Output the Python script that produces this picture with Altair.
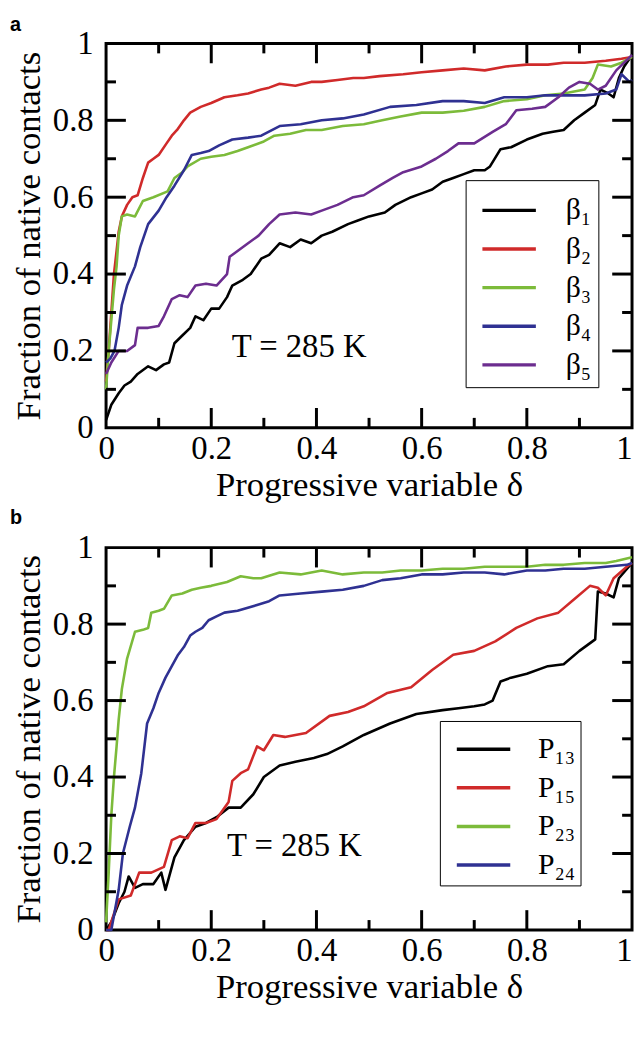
import altair as alt
import pandas as pd

FONT = "Liberation Serif"

# ---------------- Panel a ----------------
a_names = ["β₁", "β₂", "β₃", "β₄", "β₅"]
a_colors = ["#000000", "#d02a2a", "#7cbb3a", "#2f3192", "#6c2d8f"]

b1_x = [0, 0.01, 0.024, 0.035, 0.047, 0.06, 0.08, 0.095, 0.11, 0.12, 0.13, 0.145, 0.16, 0.17, 0.185,
        0.2, 0.215, 0.23, 0.24, 0.26, 0.275, 0.295, 0.31, 0.33, 0.35, 0.37, 0.39, 0.41, 0.43, 0.46,
        0.48, 0.5, 0.53, 0.55, 0.58, 0.6, 0.62, 0.64, 0.66, 0.68, 0.7, 0.72, 0.73, 0.75, 0.77,
        0.8, 0.83, 0.85, 0.87, 0.89, 0.91, 0.93, 0.94, 0.955, 0.965, 0.975, 0.985, 1.0]
b1_y = [0.02, 0.06, 0.09, 0.11, 0.12, 0.14, 0.16, 0.15, 0.165, 0.17, 0.22, 0.24, 0.26, 0.29, 0.28,
        0.31, 0.31, 0.34, 0.37, 0.385, 0.40, 0.44, 0.45, 0.48, 0.47, 0.49, 0.48, 0.5, 0.51, 0.53,
        0.54, 0.55, 0.56, 0.58, 0.60, 0.61, 0.62, 0.64, 0.65, 0.66, 0.67, 0.67, 0.68, 0.725, 0.73,
        0.75, 0.765, 0.77, 0.775, 0.80, 0.82, 0.84, 0.88, 0.87, 0.86, 0.91, 0.94, 0.97]

b2_x = [0, 0.005, 0.01, 0.015, 0.02, 0.024, 0.03, 0.04, 0.05, 0.06, 0.07, 0.08, 0.09, 0.1, 0.115,
        0.125, 0.135, 0.148, 0.16, 0.18, 0.2, 0.225, 0.25, 0.27, 0.295, 0.31, 0.33, 0.36, 0.39, 0.41,
        0.44, 0.47, 0.49, 0.52, 0.565, 0.6, 0.64, 0.68, 0.72, 0.76, 0.8, 0.84, 0.87, 0.91, 0.95,
        0.98, 1.0]
b2_y = [0.12, 0.2, 0.3, 0.4, 0.46, 0.51, 0.55, 0.58, 0.6, 0.605, 0.65, 0.69, 0.70, 0.71, 0.74,
        0.76, 0.775, 0.80, 0.82, 0.835, 0.845, 0.86, 0.865, 0.87, 0.88, 0.885, 0.895, 0.89, 0.9, 0.90,
        0.905, 0.91, 0.91, 0.915, 0.92, 0.925, 0.93, 0.935, 0.93, 0.94, 0.945, 0.945, 0.95, 0.95, 0.955,
        0.96, 0.965]

b3_x = [0, 0.005, 0.01, 0.015, 0.02, 0.024, 0.03, 0.04, 0.055, 0.07, 0.09, 0.117, 0.13, 0.145, 0.155,
        0.18, 0.2, 0.225, 0.25, 0.27, 0.3, 0.32, 0.35, 0.38, 0.41, 0.45, 0.49, 0.525, 0.56, 0.6,
        0.64, 0.68, 0.72, 0.757, 0.8, 0.835, 0.87, 0.91, 0.925, 0.935, 0.96, 0.98, 1.0]
b3_y = [0.1, 0.2, 0.28, 0.36, 0.42, 0.5, 0.55, 0.555, 0.55, 0.59, 0.6, 0.615, 0.65, 0.665, 0.68,
        0.70, 0.705, 0.71, 0.72, 0.73, 0.745, 0.76, 0.765, 0.775, 0.775, 0.785, 0.79, 0.80, 0.81, 0.82,
        0.82, 0.825, 0.835, 0.85, 0.855, 0.865, 0.87, 0.88, 0.91, 0.945, 0.94, 0.95, 0.965]

b4_x = [0, 0.008, 0.016, 0.024, 0.03, 0.04, 0.055, 0.065, 0.08, 0.1, 0.115, 0.13, 0.148, 0.163, 0.18,
        0.195, 0.215, 0.24, 0.27, 0.295, 0.33, 0.37, 0.41, 0.45, 0.49, 0.54, 0.59, 0.64, 0.68, 0.72,
        0.757, 0.8, 0.835, 0.87, 0.91, 0.95, 0.97, 0.98, 0.995, 1.0]
b4_y = [0.17, 0.18, 0.2, 0.26, 0.32, 0.37, 0.42, 0.47, 0.53, 0.565, 0.6, 0.63, 0.67, 0.71, 0.715,
        0.72, 0.735, 0.75, 0.755, 0.76, 0.785, 0.79, 0.80, 0.805, 0.815, 0.835, 0.84, 0.85, 0.85, 0.845,
        0.86, 0.86, 0.865, 0.865, 0.865, 0.87, 0.88, 0.92, 0.90, 0.905]

b5_x = [0, 0.01, 0.024, 0.04, 0.055, 0.06, 0.08, 0.1, 0.11, 0.125, 0.14, 0.155, 0.17, 0.19, 0.21,
        0.23, 0.235, 0.25, 0.27, 0.29, 0.31, 0.33, 0.36, 0.39, 0.41, 0.44, 0.47, 0.49, 0.52, 0.545,
        0.565, 0.6, 0.627, 0.65, 0.67, 0.7, 0.735, 0.76, 0.78, 0.81, 0.835, 0.86, 0.88, 0.9, 0.92,
        0.935, 0.95, 0.97, 0.985, 1.0]
b5_y = [0.14, 0.17, 0.2, 0.2, 0.215, 0.26, 0.26, 0.265, 0.29, 0.335, 0.345, 0.34, 0.37, 0.375, 0.37,
        0.40, 0.445, 0.46, 0.48, 0.50, 0.53, 0.555, 0.56, 0.555, 0.565, 0.58, 0.60, 0.605, 0.63, 0.65,
        0.665, 0.68, 0.70, 0.72, 0.74, 0.74, 0.77, 0.79, 0.826, 0.83, 0.835, 0.86, 0.885, 0.90, 0.895,
        0.88, 0.89, 0.93, 0.95, 0.97]

# ---------------- Panel b ----------------
b_names = ["P₁₃", "P₁₅", "P₂₃", "P₂₄"]
b_colors = ["#000000", "#d02a2a", "#7cbb3a", "#2f3192"]

p13_x = [0, 0.01, 0.024, 0.035, 0.043, 0.055, 0.07, 0.09, 0.105, 0.113, 0.13, 0.148, 0.17, 0.19, 0.21,
         0.233, 0.256, 0.28, 0.3, 0.33, 0.36, 0.395, 0.42, 0.45, 0.49, 0.54, 0.59, 0.64, 0.67, 0.7,
         0.72, 0.735, 0.75, 0.77, 0.8, 0.84, 0.87, 0.9, 0.93, 0.935, 0.95, 0.965, 0.975, 1.0]
p13_y = [0.0, 0.02, 0.07, 0.1, 0.14, 0.11, 0.12, 0.12, 0.15, 0.105, 0.19, 0.235, 0.27, 0.28, 0.295,
         0.32, 0.32, 0.355, 0.40, 0.43, 0.44, 0.45, 0.46, 0.48, 0.51, 0.54, 0.565, 0.575, 0.58, 0.585,
         0.59, 0.60, 0.65, 0.66, 0.67, 0.69, 0.695, 0.73, 0.76, 0.885, 0.88, 0.87, 0.92, 0.96]

p15_x = [0, 0.005, 0.024, 0.047, 0.063, 0.086, 0.11, 0.125, 0.14, 0.155, 0.17, 0.19, 0.21, 0.233, 0.24,
         0.256, 0.27, 0.287, 0.3, 0.318, 0.34, 0.38, 0.425, 0.46, 0.49, 0.535, 0.58, 0.62, 0.66, 0.7,
         0.74, 0.78, 0.82, 0.86, 0.89, 0.92, 0.935, 0.95, 0.965, 0.99, 1.0]
p15_y = [0.0, 0.0, 0.08, 0.09, 0.15, 0.15, 0.165, 0.235, 0.245, 0.24, 0.28, 0.28, 0.29, 0.335, 0.39,
         0.41, 0.42, 0.48, 0.47, 0.51, 0.505, 0.515, 0.56, 0.57, 0.585, 0.62, 0.635, 0.68, 0.72, 0.73,
         0.755, 0.79, 0.815, 0.83, 0.865, 0.90, 0.895, 0.875, 0.92, 0.95, 0.96]

p23_x = [0, 0.005, 0.01, 0.015, 0.02, 0.024, 0.03, 0.04, 0.055, 0.07, 0.08, 0.086, 0.1, 0.11, 0.125,
         0.145, 0.163, 0.18, 0.2, 0.23, 0.256, 0.28, 0.295, 0.33, 0.37, 0.41, 0.45, 0.49, 0.525, 0.56,
         0.6, 0.64, 0.68, 0.72, 0.757, 0.8, 0.835, 0.87, 0.91, 0.95, 0.97, 1.0]
p23_y = [0.02, 0.15, 0.3, 0.4, 0.48, 0.55, 0.63, 0.71, 0.78, 0.785, 0.79, 0.83, 0.835, 0.84, 0.875,
         0.88, 0.89, 0.895, 0.90, 0.91, 0.925, 0.92, 0.92, 0.935, 0.93, 0.94, 0.93, 0.935, 0.935, 0.94,
         0.94, 0.945, 0.945, 0.95, 0.95, 0.95, 0.955, 0.955, 0.96, 0.96, 0.965, 0.975]

p24_x = [0, 0.01, 0.024, 0.032, 0.045, 0.055, 0.067, 0.078, 0.09, 0.1, 0.113, 0.125, 0.137, 0.148, 0.16,
         0.17, 0.183, 0.195, 0.21, 0.225, 0.25, 0.287, 0.31, 0.33, 0.37, 0.41, 0.45, 0.49, 0.525, 0.56,
         0.6, 0.64, 0.68, 0.72, 0.757, 0.8, 0.835, 0.87, 0.91, 0.95, 0.99, 1.0]
p24_y = [0.0, 0.0, 0.105, 0.2, 0.27, 0.32, 0.41, 0.54, 0.58, 0.62, 0.66, 0.69, 0.72, 0.74, 0.77,
         0.78, 0.79, 0.81, 0.82, 0.83, 0.835, 0.85, 0.86, 0.875, 0.88, 0.885, 0.89, 0.90, 0.915, 0.92,
         0.93, 0.93, 0.935, 0.935, 0.93, 0.94, 0.94, 0.945, 0.945, 0.95, 0.955, 0.96]

tick_values = [0, 0.2, 0.4, 0.6, 0.8, 1]
major_ticks = [0.2, 0.4, 0.6, 0.8]
minor_ticks = [0.1, 0.3, 0.5, 0.7, 0.9]
annotation = "T = 285 K"
x_title = "Progressive variable δ"
y_title = "Fraction of native contacts"

W = 531
MAJ_LEN = 20
MIN_LEN = 10


def series_df(names, xs, ys):
    rows = []
    for i, (n, xv, yv) in enumerate(zip(names, xs, ys)):
        for j, (a, b) in enumerate(zip(xv, yv)):
            rows.append({"series": n, "k": i, "i": j, "x": a, "y": b})
    return pd.DataFrame(rows)


X_AXIS = alt.Axis(values=tick_values, format="~g", title=x_title, ticks=False, tickSize=0,
                  domain=False, grid=False, labelFlush=False, labelPadding=5, titlePadding=2,
                  labelAlign={"condition": {"test": "datum.value == 1", "value": "right"},
                              "value": "center"})
Y_AXIS = alt.Axis(values=tick_values, format="~g", title=y_title, ticks=False, tickSize=0,
                  domain=False, grid=False, labelPadding=13, titlePadding=6)


def tick_frames(H):
    # inward tick marks: tick length (pixels) expressed as a fraction of the panel size
    rows = []
    for vals, L in ((major_ticks, MAJ_LEN), (minor_ticks, MIN_LEN)):
        for t in vals:
            rows.append({"side": "bottom", "t": t, "a": 0.0, "b": L / H})
            rows.append({"side": "top", "t": t, "a": 1.0, "b": 1 - L / H})
            rows.append({"side": "left", "t": t, "a": 0.0, "b": L / W})
            rows.append({"side": "right", "t": t, "a": 1.0, "b": 1 - L / W})
    return pd.DataFrame(rows)


def panel(letter, letter_y, names, colors, xs, ys, H, leg_x, leg_y, leg_pad, sym_path, ann_x, ann_y):
    def xsc():
        return alt.Scale(domain=[0, 1], nice=False, zero=False)

    ysc = xsc
    df = series_df(names, xs, ys)
    tf = tick_frames(H)
    base = alt.Chart(tf).mark_rule(color="black", strokeWidth=3)
    vert = base.transform_filter("datum.side == 'bottom' || datum.side == 'top'").encode(
        x=alt.X("t:Q", scale=xsc(), axis=None),
        y=alt.Y("a:Q", scale=ysc(), axis=None), y2="b:Q")
    horiz = base.transform_filter("datum.side == 'left' || datum.side == 'right'").encode(
        y=alt.Y("t:Q", scale=ysc(), axis=None),
        x=alt.X("a:Q", scale=xsc(), axis=None), x2="b:Q")
    lines = alt.Chart(df).mark_line(strokeWidth=2.6, strokeJoin="round").encode(
        x=alt.X("x:Q", scale=xsc(), axis=X_AXIS),
        y=alt.Y("y:Q", scale=ysc(), axis=Y_AXIS),
        color=alt.Color("series:N", sort=names,
                        scale=alt.Scale(domain=names, range=colors),
                        legend=alt.Legend(title=None, orient="none", legendX=leg_x, legendY=leg_y,
                                          symbolType=sym_path, symbolSize=1849,
                                          symbolStrokeWidth=3.5, labelOffset=47,
                                          labelFont=FONT, labelFontSize=30, labelColor="black",
                                          padding=leg_pad, rowPadding=0, strokeColor="black",
                                          fillColor="white")),
        order="i:Q",
        detail="k:N",
    )
    ann = alt.Chart(pd.DataFrame({"x": [ann_x], "y": [ann_y], "t": [annotation]})).mark_text(
        font=FONT, fontSize=33, color="black", align="center", baseline="middle"
    ).encode(x=alt.X("x:Q", scale=xsc(), axis=None), y=alt.Y("y:Q", scale=ysc(), axis=None), text="t:N")
    lab = alt.Chart(pd.DataFrame({"t": [letter]})).mark_text(
        font="Liberation Sans", fontSize=20, fontWeight="bold", color="black", align="left",
        baseline="middle"
    ).encode(x=alt.value(-97), y=alt.value(letter_y), text="t:N")
    return alt.layer(lines, vert, horiz, ann, lab).resolve_scale(
        x="independent", y="independent"
    ).properties(width=W, height=H)


panel_a = panel("a", -19, a_names, a_colors,
                [b1_x, b2_x, b3_x, b4_x, b5_x], [b1_y, b2_y, b3_y, b4_y, b5_y],
                388, 363, 138, 7, "M-0.63,0H1.88", 0.367, 0.21)
panel_b = panel("b", -30, b_names, b_colors,
                [p13_x, p15_x, p23_x, p24_x], [p13_y, p15_y, p23_y, p24_y],
                386, 337, 175, 5, "M-0.53,0H1.98", 0.358, 0.22)

chart = alt.vconcat(panel_a, panel_b, spacing=2).resolve_scale(
    color="independent"
).resolve_legend(color="independent").properties(
    padding={"top": 0, "left": 0, "right": 0, "bottom": 0},
    background="white",
).configure_axis(
    labelFont=FONT, labelFontSize=33, labelColor="black",
    titleFont=FONT, titleFontSize=35, titleFontWeight="normal", titleColor="black",
).configure_view(stroke="black", strokeWidth=3)

chart.save("out.html", embed_options={"renderer": "svg", "actions": False})
